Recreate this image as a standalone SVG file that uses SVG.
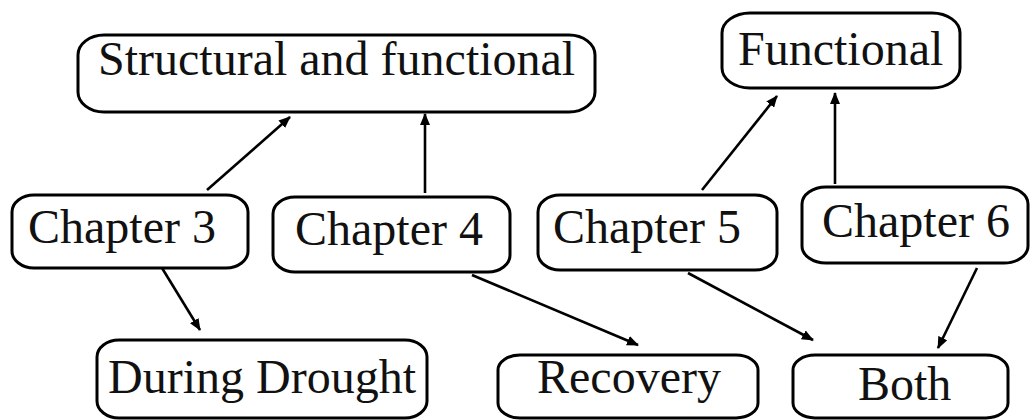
<svg xmlns="http://www.w3.org/2000/svg" width="1031" height="420" viewBox="0 0 1031 420">
  <style>
    .box { fill: #ffffff; stroke: #000000; stroke-width: 3; }
    .lbl { font-family: "Liberation Serif", "Times New Roman", serif; font-size: 48px; fill: #111111; }
    .edge { stroke: #000000; stroke-width: 2.6; fill: none; marker-end: url(#arrow); }
  </style>
  <defs>
    <marker id="arrow" markerUnits="userSpaceOnUse" markerWidth="12" markerHeight="10" refX="11" refY="5" orient="auto">
      <path d="M0,0 L12,5 L0,10 z" fill="#000000"/>
    </marker>
  </defs>
  <rect width="1031" height="420" fill="#ffffff"/>

  <!-- connectors -->
  <g id="connectors">
    <line class="edge" x1="207" y1="190" x2="290" y2="117"/>
    <line class="edge" x1="425" y1="193" x2="425" y2="114"/>
    <line class="edge" x1="162" y1="268" x2="200" y2="330"/>
    <line class="edge" x1="472" y1="275" x2="638" y2="345"/>
    <line class="edge" x1="702" y1="190" x2="777" y2="96"/>
    <line class="edge" x1="835" y1="184" x2="835" y2="93"/>
    <line class="edge" x1="688" y1="273" x2="813" y2="340"/>
    <line class="edge" x1="977" y1="268" x2="938" y2="348"/>
  </g>

  <!-- top row -->
  <g id="structural-functional">
    <rect class="box" x="78" y="35" width="517" height="77" rx="26" ry="20"/>
    <text class="lbl" x="98" y="75">Structural and functional</text>
  </g>
  <g id="functional">
    <rect class="box" x="722" y="13" width="238" height="75" rx="28" ry="20"/>
    <text class="lbl" x="738" y="65">Functional</text>
  </g>

  <!-- chapters -->
  <g id="chapter-3">
    <rect class="box" x="12" y="195" width="236" height="73" rx="22" ry="17"/>
    <text class="lbl" x="28" y="243">Chapter 3</text>
  </g>
  <g id="chapter-4">
    <rect class="box" x="273" y="197" width="237" height="75" rx="22" ry="17"/>
    <text class="lbl" x="295" y="245">Chapter 4</text>
  </g>
  <g id="chapter-5">
    <rect class="box" x="538" y="195" width="239" height="75" rx="22" ry="17"/>
    <text class="lbl" x="553" y="243">Chapter 5</text>
  </g>
  <g id="chapter-6">
    <rect class="box" x="802" y="187" width="226" height="76" rx="24" ry="17"/>
    <text class="lbl" x="822" y="237">Chapter 6</text>
  </g>

  <!-- bottom row -->
  <g id="during-drought">
    <rect class="box" x="97" y="340" width="330" height="78" rx="22" ry="17"/>
    <text class="lbl" x="108" y="393">During Drought</text>
  </g>
  <g id="recovery">
    <rect class="box" x="498" y="355" width="260" height="63" rx="22" ry="15"/>
    <text class="lbl" x="537" y="393">Recovery</text>
  </g>
  <g id="both">
    <rect class="box" x="793" y="355" width="215" height="63" rx="22" ry="15"/>
    <text class="lbl" x="858" y="400">Both</text>
  </g>
</svg>
